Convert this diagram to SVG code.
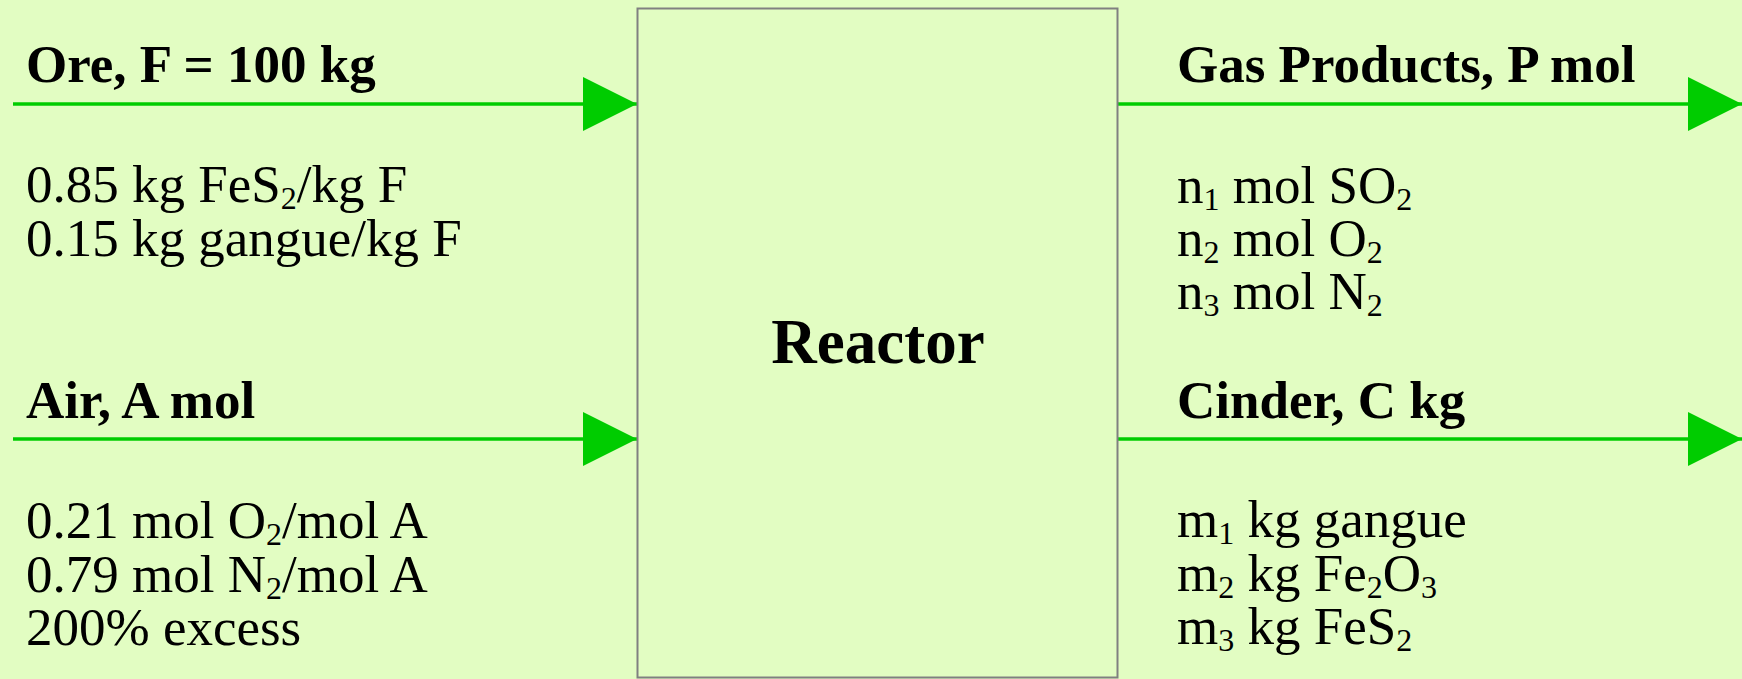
<svg xmlns="http://www.w3.org/2000/svg" width="1742" height="679" viewBox="0 0 1742 679">
  <defs>
    <style>
      .t { font-family: "Liberation Serif", "Times New Roman", serif; font-size: 53px; fill: #000; }
      .b { font-weight: bold; }
      .s { font-size: 32px; }
      .flow { stroke: #00cc00; stroke-width: 3.5; fill: none; }
      .box { fill: none; stroke: #808080; stroke-width: 2; }
    </style>
    <marker id="ah" viewBox="0 0 54 54" refX="54" refY="27" markerWidth="54" markerHeight="54" markerUnits="userSpaceOnUse" orient="auto">
      <path d="M0,0 L54,27 L0,54 Z" fill="#00cc00"/>
    </marker>
  </defs>
  <rect x="0" y="0" width="1742" height="679" fill="#e2fdc2"/>

  <g id="connectors">
    <line class="flow" x1="13" y1="104" x2="637" y2="104" marker-end="url(#ah)"/>
    <line class="flow" x1="13" y1="439" x2="637" y2="439" marker-end="url(#ah)"/>
    <line class="flow" x1="1118" y1="104" x2="1742" y2="104" marker-end="url(#ah)"/>
    <line class="flow" x1="1118" y1="439" x2="1742" y2="439" marker-end="url(#ah)"/>
  </g>

  <g id="reactor">
    <rect class="box" x="637.5" y="8.5" width="480" height="669"/>
    <text class="t b" x="878" y="363" text-anchor="middle" style="font-size:63px">Reactor</text>
  </g>

  <g id="ore">
    <text class="t b" x="26" y="82">Ore, F = 100 kg</text>
    <text class="t" x="26" y="202">0.85 kg FeS<tspan class="s" dy="7">2</tspan><tspan dy="-7">/kg F</tspan></text>
    <text class="t" x="26" y="255.5">0.15 kg gangue/kg F</text>
  </g>

  <g id="air">
    <text class="t b" x="26" y="417.5">Air, A mol</text>
    <text class="t" x="26" y="538">0.21 mol O<tspan class="s" dy="7">2</tspan><tspan dy="-7">/mol A</tspan></text>
    <text class="t" x="26" y="591.5">0.79 mol N<tspan class="s" dy="7">2</tspan><tspan dy="-7">/mol A</tspan></text>
    <text class="t" x="26" y="645">200% excess</text>
  </g>

  <g id="gas-products">
    <text class="t b" x="1177" y="82">Gas Products, P mol</text>
    <text class="t" x="1177" y="202.5">n<tspan class="s" dy="7">1</tspan><tspan dy="-7"> mol SO</tspan><tspan class="s" dy="7">2</tspan></text>
    <text class="t" x="1177" y="255.5">n<tspan class="s" dy="7">2</tspan><tspan dy="-7"> mol O</tspan><tspan class="s" dy="7">2</tspan></text>
    <text class="t" x="1177" y="308.5">n<tspan class="s" dy="7">3</tspan><tspan dy="-7"> mol N</tspan><tspan class="s" dy="7">2</tspan></text>
  </g>

  <g id="cinder">
    <text class="t b" x="1177" y="417.5">Cinder, C kg</text>
    <text class="t" x="1177" y="537">m<tspan class="s" dy="7">1</tspan><tspan dy="-7"> kg gangue</tspan></text>
    <text class="t" x="1177" y="590.5">m<tspan class="s" dy="7">2</tspan><tspan dy="-7"> kg Fe</tspan><tspan class="s" dy="7">2</tspan><tspan dy="-7">O</tspan><tspan class="s" dy="7">3</tspan></text>
    <text class="t" x="1177" y="644">m<tspan class="s" dy="7">3</tspan><tspan dy="-7"> kg FeS</tspan><tspan class="s" dy="7">2</tspan></text>
  </g>
</svg>
